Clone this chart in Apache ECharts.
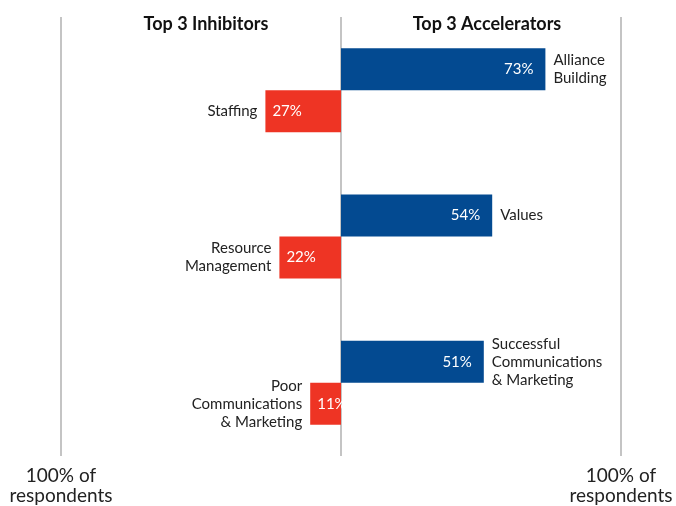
<!DOCTYPE html>
<html>
<head>
<meta charset="utf-8">
<script src="https://cdn.jsdelivr.net/npm/echarts@6/dist/echarts.min.js"></script>
<style>
  html, body { margin: 0; padding: 0; background: #fff; }
  #chart { width: 676px; height: 506px; }
</style>
</head>
<body>
<div id="chart"></div>
<script>
  // data
  const groups = ['g1', 'g2', 'g3'];
  const accelerators = ['Alliance\nBuilding', 'Values', 'Successful\nCommunications\n& Marketing'];
  const acceleratorValues = [73, 54, 51];
  const inhibitors = ['Staffing', 'Resource\nManagement', 'Poor\nCommunications\n& Marketing'];
  const inhibitorValues = [27, 22, 11];
  const endLabel = '100% of\nrespondents';

  const font = 'Lato, "Noto Sans", sans-serif';
  const blue = '#034a91';
  const red = '#ee3424';

  const chart = echarts.init(document.getElementById('chart'));

  const valueLabel = (pos, dist) => ({
    show: true,
    position: pos,
    distance: dist,
    color: '#fff',
    fontFamily: font,
    fontSize: 15,
    formatter: (p) => Math.abs(p.value) + '%',
  });

  const nameLabel = (pos, names) => ({
    show: true,
    position: pos,
    distance: 8,
    color: '#222',
    fontFamily: font,
    fontSize: 15,
    lineHeight: 18,
    formatter: (p) => names[p.dataIndex],
  });

  const titleStyle = { fontFamily: font, fontSize: 18, fontWeight: 'bold', color: '#111' };

  chart.setOption({
    animation: false,
    title: [
      { text: 'Top 3 Inhibitors', left: 201, top: 10, textAlign: 'center', textStyle: titleStyle },
      { text: 'Top 3 Accelerators', left: 482, top: 10, textAlign: 'center', textStyle: titleStyle },
    ],
    grid: { top: 17, bottom: 50, left: 61, right: 55 },
    xAxis: {
      type: 'value',
      min: -100,
      max: 100,
      interval: 100,
      axisLine: { show: false },
      axisTick: { show: false },
      axisLabel: {
        margin: 10,
        color: '#222',
        fontFamily: font,
        fontSize: 19,
        lineHeight: 20,
        formatter: (v) => (v === 0 ? '' : endLabel),
      },
      splitLine: { lineStyle: { color: '#c4c4c4', width: 2 } },
    },
    yAxis: [
      { type: 'category', data: groups, inverse: true, show: false },
      { type: 'category', data: groups, inverse: true, show: false },
    ],
    series: [
      {
        type: 'bar',
        yAxisIndex: 0,
        data: acceleratorValues,
        barWidth: 42,
        barGap: 0,
        itemStyle: { color: blue },
        label: valueLabel('insideRight', 12),
      },
      {
        type: 'bar',
        yAxisIndex: 0,
        data: inhibitorValues.map((v) => -v),
        barWidth: 42,
        barGap: 0,
        itemStyle: { color: red },
        label: valueLabel('insideLeft', 7),
      },
      {
        type: 'bar',
        yAxisIndex: 1,
        data: acceleratorValues,
        barWidth: 42,
        barGap: 0,
        itemStyle: { color: 'transparent' },
        label: nameLabel('right', accelerators),
        silent: true,
      },
      {
        type: 'bar',
        yAxisIndex: 1,
        data: inhibitorValues.map((v) => -v),
        barWidth: 42,
        barGap: 0,
        itemStyle: { color: 'transparent' },
        label: nameLabel('left', inhibitors),
        silent: true,
      },
    ],
  });
</script>
</body>
</html>
